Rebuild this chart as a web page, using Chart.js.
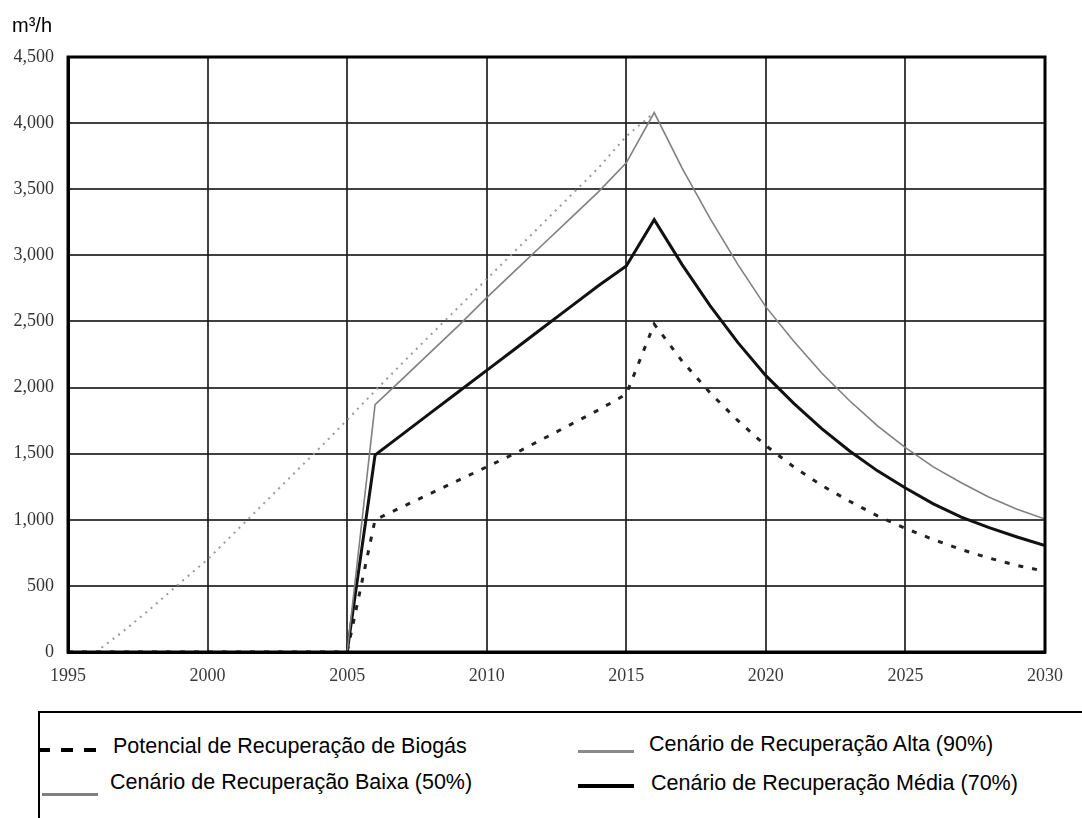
<!DOCTYPE html>
<html>
<head>
<meta charset="utf-8">
<script src="https://cdn.jsdelivr.net/npm/chart.js@4.4.1/dist/chart.umd.min.js"></script>
<style>
  body { margin: 0; background: #fff; }
  #wrap { position: relative; width: 1082px; height: 818px; overflow: hidden; font-family: "Liberation Sans", Arial, sans-serif; }
  #myChart { position: absolute; left: 0; top: 0; }
  #unit { position: absolute; left: 12px; top: 14px; font-size: 20px; line-height: 22px; color: #000; }
  #legend { position: absolute; left: 38px; top: 711px; width: 1100px; height: 120px;
            border-left: 2px solid #000; border-top: 2px solid #000; }
  .item { position: absolute; font-size: 21.5px; color: #000; white-space: nowrap; line-height: 24px; }
  .swatch { position: absolute; }
</style>
</head>
<body>
<div id="wrap">
  <canvas id="myChart" width="1082" height="700"></canvas>
  <div id="unit">m³/h</div>
  <div id="legend"></div>
</div>
<script>
// Biogas recovery curves (m³/h per year)

const years = [1995, 1996, 1997, 1998, 1999, 2000, 2001, 2002, 2003, 2004, 2005, 2006,
               2007, 2008, 2009, 2010, 2011, 2012, 2013, 2014, 2015, 2016, 2017, 2018,
               2019, 2020, 2021, 2022, 2023, 2024, 2025, 2026, 2027, 2028, 2029, 2030];

const potencial = [null, 0, 160, 335, 520, 700, 910, 1120, 1330, 1540, 1755, 1975,
                   2190, 2400, 2610, 2820, 3030, 3240, 3450, 3660, 3900, 4080, null, null,
                   null, null, null, null, null, null, null, null, null, null, null, null];

const alta = [null, null, null, null, null, null, null, null, null, null, 0, 1870,
              2070, 2270, 2470, 2680, 2880, 3080, 3280, 3480, 3700, 4080, 3660, 3280,
              2930, 2610, 2350, 2110, 1900, 1710, 1545, 1400, 1280, 1170, 1080, 1005];

const media = [null, null, null, null, null, null, null, null, null, null, 0, 1490,
               1650, 1810, 1970, 2130, 2290, 2450, 2610, 2770, 2920, 3270, 2930, 2620,
               2340, 2090, 1880, 1690, 1520, 1370, 1240, 1120, 1020, 940, 870, 805];

const baixa = [0, 0, 0, 0, 0, 0, 0, 0, 0, 0, 0, 1000,
               1100, 1200, 1300, 1400, 1500, 1610, 1720, 1830, 1950, 2480, 2200, 1960,
               1750, 1560, 1400, 1260, 1140, 1030, 935, 850, 775, 710, 655, 610];

const legendLabels = ['Potencial de Recuperação de Biogás', 'Cenário de Recuperação Alta (90%)',
                      'Cenário de Recuperação Baixa (50%)', 'Cenário de Recuperação Média (70%)'];

function points(values) {
    return years.map((y, i) => ({ x: y, y: values[i] }));
}

// thick frame round the plot area
const frame = {
    id: 'frame',
    afterDraw(chart) {
        const { ctx, chartArea: a } = chart;
        ctx.save();
        ctx.strokeStyle = '#000';
        ctx.lineWidth = 3;
        ctx.strokeRect(a.left, a.top, a.right - a.left, a.bottom - a.top);
        ctx.restore();
    }
};

const tickFont = { family: '"Liberation Serif", "Times New Roman", serif', size: 18 };

new Chart(document.getElementById('myChart'), {
    type: 'line',
    data: {
        datasets: [
            { label: legendLabels[0], data: points(potencial), borderColor: '#9a9a9a',
              borderWidth: 2, borderDash: [2, 5] },
            { label: legendLabels[1], data: points(alta), borderColor: '#808080',
              borderWidth: 1.6 },
            { label: legendLabels[3], data: points(media), borderColor: '#111',
              borderWidth: 3 },
            { label: legendLabels[2], data: points(baixa), borderColor: '#222',
              borderWidth: 3, borderDash: [5, 9] }
        ]
    },
    options: {
        responsive: false,
        animation: false,
        elements: { point: { radius: 0 }, line: { tension: 0 } },
        layout: { padding: { top: 57, right: 37, left: 0, bottom: 0 } },
        plugins: { legend: { display: false }, tooltip: { enabled: false } },
        scales: {
            x: {
                type: 'linear',
                min: 1995, max: 2030,
                afterFit(scale) { scale.height = 48; },
                ticks: { stepSize: 5, padding: 13, color: '#3a3a3a', font: tickFont,
                         callback: v => String(v) },
                grid: { color: 'rgba(30,30,30,0.85)', lineWidth: 2, drawTicks: false },
                border: { color: '#000', width: 3 }
            },
            y: {
                min: 0, max: 4500,
                afterFit(scale) { scale.width = 68; },
                ticks: { stepSize: 500, padding: 14, color: '#333', font: tickFont,
                         callback: v => v.toLocaleString('en-US') },
                grid: { color: 'rgba(30,30,30,0.85)', lineWidth: 2, drawTicks: false },
                border: { color: '#000', width: 3 }
            }
        }
    },
    plugins: [frame]
});

// legend laid out as in the picture, two columns
const legend = document.getElementById('legend');
const items = [
    { text: legendLabels[0], tx: 73, ty: 21, sw: { x: -2, y: 35, w: 60, h: 4, dash: true, color: '#000' } },
    { text: legendLabels[1], tx: 609, ty: 19, sw: { x: 538, y: 37, w: 56, h: 3, color: '#8a8a8a' } },
    { text: legendLabels[2], tx: 70, ty: 57, sw: { x: 2, y: 80, w: 56, h: 3, color: '#808080' } },
    { text: legendLabels[3], tx: 611, ty: 58, sw: { x: 538, y: 71, w: 56, h: 4, color: '#000' } }
];
items.forEach(it => {
    const t = document.createElement('div');
    t.className = 'item';
    t.style.left = it.tx + 'px';
    t.style.top = it.ty + 'px';
    t.textContent = it.text;
    legend.appendChild(t);
    const s = document.createElement('div');
    s.className = 'swatch';
    s.style.left = it.sw.x + 'px';
    s.style.top = it.sw.y + 'px';
    s.style.width = it.sw.w + 'px';
    s.style.height = it.sw.h + 'px';
    if (it.sw.dash) {
        s.style.background = 'repeating-linear-gradient(to right, #000 0 12px, transparent 12px 23px)';
    } else {
        s.style.background = it.sw.color;
    }
    legend.appendChild(s);
});
</script>
</body>
</html>
